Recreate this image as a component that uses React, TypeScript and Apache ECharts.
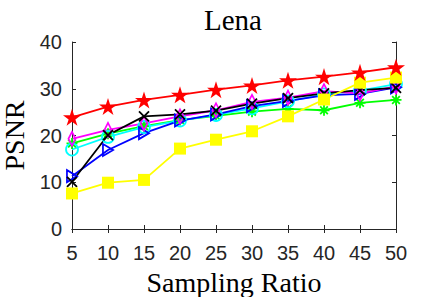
import React, { useEffect, useRef } from "react";
import * as echarts from "echarts";

const ratios = [5, 10, 15, 20, 25, 30, 35, 40, 45, 50];
const redStar = [23.9, 26.2, 27.6, 28.7, 29.8, 30.7, 31.8, 32.6, 33.5, 34.6];
const yellowSquare = [7.6, 9.9, 10.5, 17.2, 19.1, 20.9, 24.1, 27.7, 31.3, 32.4];
const blackCross = [10.1, 20.1, 24.1, 24.5, 25.3, 26.8, 28.0, 29.0, 29.7, 30.2];
const magentaDiamond = [19.3, 21.2, 22.6, 24.1, 25.4, 27.2, 28.1, 29.5, 29.0, 30.5];
const cyanCircle = [17.0, 19.7, 21.8, 23.2, 24.4, 25.8, 27.3, 28.8, 29.6, 31.0];
const greenAsterisk = [18.3, 20.4, 22.0, 23.3, 24.2, 25.1, 25.7, 25.4, 27.0, 27.6];
const blueTriangle = [11.3, 16.9, 20.5, 23.2, 24.5, 26.3, 27.4, 28.6, 28.9, 30.3];
const yTicks = [0, 10, 20, 30, 40];

const STAR = "path://M50,0 L61,35 L98,35 L68,57 L79,91 L50,70 L21,91 L32,57 L2,35 L39,35 Z";
const CROSS = "path://M0,0 L10,10 M10,0 L0,10";
const ASTER = "path://M5,0 L5,10 M0,5 L10,5 M1.5,1.5 L8.5,8.5 M8.5,1.5 L1.5,8.5";
const DIAMOND = "path://M5,0 L10,7 L5,14 L0,7 Z";
const TRI = "path://M0,0 L11,6 L0,12 Z";

function mk(values: number[], color: string, symbol: string, size: number | number[], filled: boolean) {
  return {
    type: "line",
    data: values.map((v, i) => [ratios[i], v]),
    symbol,
    symbolSize: size,
    symbolKeepAspect: true,
    showSymbol: true,
    lineStyle: { color, width: 1.8 },
    itemStyle: filled
      ? { color, borderColor: color, borderWidth: 0 }
      : { color: "none", borderColor: color, borderWidth: 1.8 },
    emphasis: { disabled: true },
  };
}

export default function App() {
  const ref = useRef<HTMLDivElement>(null);
  useEffect(() => {
    const chart = echarts.init(ref.current!, null, { renderer: "svg" });
    const axisColor = "#262626";
    const sideAxis = {
      axisLine: { show: true, lineStyle: { color: axisColor, width: 1 } },
      axisTick: { show: true, inside: true, length: 4, lineStyle: { color: axisColor } },
      splitLine: { show: false },
    };
    chart.setOption({
      animation: false,
      backgroundColor: "#ffffff",
      graphic: [
        {
          type: "text",
          x: 233,
          y: 5,
          style: {
            text: "Lena",
            font: "29px 'Liberation Serif'",
            fill: "#000",
            align: "center",
            verticalAlign: "top",
          },
        },
      ],
      grid: { left: 72, right: 42, top: 42, bottom: 68, containLabel: false, outerBoundsMode: "none" },
      xAxis: [
        {
          type: "value",
          min: 5,
          max: 50,
          interval: 5,
          name: "Sampling Ratio",
          nameLocation: "middle",
          nameGap: 39,
          nameTextStyle: { fontFamily: "Liberation Serif", fontSize: 28, color: "#000" },
          axisLabel: { fontFamily: "Liberation Sans", fontSize: 20, color: axisColor, margin: 14 },
          ...sideAxis,
        },
        {
          type: "value",
          position: "top",
          min: 5,
          max: 50,
          interval: 5,
          axisLabel: { show: false },
          ...sideAxis,
        },
      ],
      yAxis: [
        {
          type: "value",
          min: yTicks[0],
          max: yTicks[yTicks.length - 1],
          interval: 10,
          name: "PSNR",
          nameLocation: "middle",
          nameGap: 42,
          nameTextStyle: { fontFamily: "Liberation Serif", fontSize: 28, color: "#000" },
          axisLabel: { fontFamily: "Liberation Sans", fontSize: 20, color: axisColor, margin: 10 },
          ...sideAxis,
        },
        {
          type: "value",
          position: "right",
          min: 0,
          max: 40,
          interval: 10,
          axisLabel: { show: false },
          ...sideAxis,
        },
      ],
      series: [
        mk(greenAsterisk, "#00ff00", ASTER, 11, false),
        mk(cyanCircle, "#00ffff", "circle", 12, false),
        mk(blueTriangle, "#0000ff", TRI, [11, 12], false),
        mk(magentaDiamond, "#ff00ff", DIAMOND, [10, 14], false),
        mk(blackCross, "#000000", CROSS, 10, false),
        mk(yellowSquare, "#ffff00", "rect", 12, true),
        mk(redStar, "#ff0000", STAR, 18, true),
      ],
    });
    return () => chart.dispose();
  }, []);
  return <div ref={ref} style={{ position: "fixed", left: 0, top: 0, width: 438, height: 297 }} />;
}
